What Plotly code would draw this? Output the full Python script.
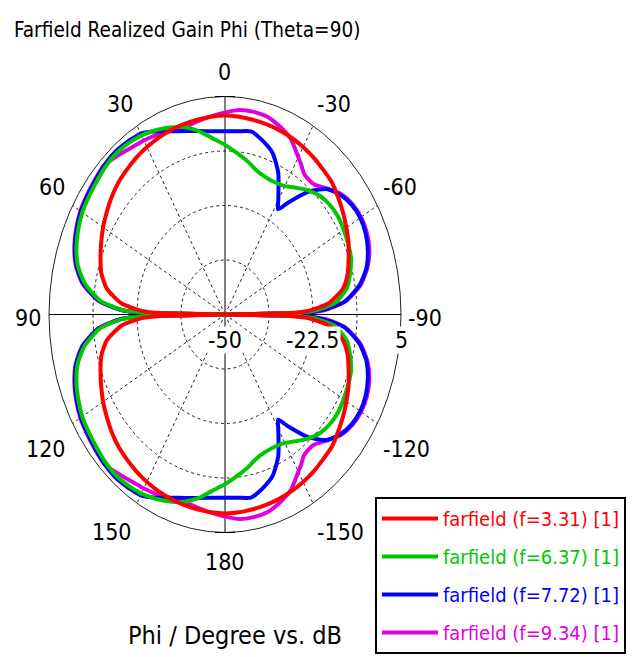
import math
import plotly.graph_objects as go

# ---------------- data ----------------
# Angles of the upper half of the cut (phi, degrees); the pattern is symmetric
# about the 90/-90 axis, the lower half mirrors these readings.
PHI_TOP = [-90, -89, -88, -85, -80, -75, -70, -65, -60, -55, -50, -45, -40, -35, -32, -30,
           -25, -20, -15, -10, -5, 0, 5, 10, 15, 20, 25, 30, 32, 35, 40, 45, 50, 55, 60,
           65, 70, 75, 80, 85, 88, 89, 90]

RED_TOP = [-50, -30, -24, -17.5, -12.6, -10.3, -8.9, -7.4, -6.2, -5.0, -3.9, -2.8, -2.3, -1.7,
           -1.4, -1.2, -0.8, -0.5, -0.3, -0.1, 0.1, 0.2, 0.1, -0.1, -0.3, -0.5, -0.8, -1.2,
           -1.4, -1.7, -2.3, -2.9, -3.8, -4.9, -6.0, -7.3, -8.6, -10.0, -12.5, -17.5, -24,
           -30, -50]

GREEN_TOP = [-50, -29, -22, -15.3, -11.3, -9.5, -8.1, -7.6, -7.2, -6.9, -7.1, -7.8, -9.2,
             -11.0, -12.0, -12.6, -13.2, -13.1, -12.3, -10.6, -9.0, -7.2, -5.4, -3.0, -1.1,
             0.2, 1.3, 2.2, 2.4, 2.7, 3.0, 2.8, 2.3, 1.9, 1.5, 0.6, -0.6, -2.4, -5.6, -11.0,
             -18, -26, -50]

BLUE_TOP = [-50, -27, -20, -12.5, -7.3, -4.2, -2.5, -1.5, -1.2, -1.7, -3.0, -5.2, -9.6, -15.5,
            -18.7, -16.7, -10.6, -6.6, -4.6, -3.1, -3.6, -3.75, -3.6, -3.0, -2.1, -0.8, 1.0,
            2.7, 2.9, 3.2, 3.5, 3.3, 2.8, 2.4, 2.0, 1.1, -0.1, -1.9, -5.0, -10.5, -17.5, -25,
            -50]

MAGENTA_TOP = [-50, -26, -19, -12.2, -7.0, -3.9, -2.0, -1.1, -0.9, -1.4, -2.7, -5.0, -7.0,
               -6.8, -5.2, -4.2, -1.2, 0.4, 1.6, 1.9, 1.8, 1.0, 0.2, -0.5, -1.1, -0.6, 0.1,
               0.7, 0.9, 1.3, 2.3, 3.3, 3.0, 2.6, 2.2, 1.3, 0.1, -1.7, -4.8, -10.3, -17.5,
               -25, -50]

SERIES_NAMES = ["farfield (f=3.31) [1]", "farfield (f=6.37) [1]",
                "farfield (f=7.72) [1]", "farfield (f=9.34) [1]"]
SERIES_VALUES = [RED_TOP, GREEN_TOP, BLUE_TOP, MAGENTA_TOP]

R_MIN, R_MAX = -50.0, 5.0
RADIAL_GRID = [-36.25, -22.5, -8.75]
RADIAL_LABELS = [-50, -22.5, 5]
ANGLE_TICKS = [0, 30, 60, 90, 120, 150, 180, -150, -120, -90, -60, -30]

TITLE = "Farfield Realized Gain Phi (Theta=90)"
AXIS_TITLE = "Phi / Degree vs. dB"

# ---------------- styles / geometry ----------------
COLORS = ["#ff0000", "#00c800", "#0000ff", "#e000e0"]
FONT = "DejaVu Sans Condensed, Liberation Sans Narrow, DejaVu Sans, sans-serif"
W, H = 637, 657
CX, CY = 225.0, 314.5          # centre of the polar area in pixels
RX, RY = 176.0, 218.0          # half axes of the (stretched) outer ring in pixels


def px(x):
    return (x - CX) / RX


def py(y):
    return (CY - y) / RY


def rho(r):
    return max(r - R_MIN, 0.0) / (R_MAX - R_MIN)


def to_xy(phis, rs):
    xs, ys = [], []
    for p, r in zip(phis, rs):
        a = math.radians(p)
        q = rho(r)
        xs.append(-q * math.sin(a))
        ys.append(q * math.cos(a))
    return xs, ys


# full cut: upper half followed by the mirrored lower half
PHI_FULL = PHI_TOP + [180 - p for p in reversed(PHI_TOP[:-1])]

fig = go.Figure()

# draw order: magenta, blue, green, red (red on top); legend lists red first
for idx in [3, 2, 1, 0]:
    vals = SERIES_VALUES[idx]
    full = vals + list(reversed(vals[:-1]))
    xs, ys = to_xy(PHI_FULL, full)
    fig.add_trace(go.Scatter(
        x=xs, y=ys, mode="lines",
        line=dict(color=COLORS[idx], width=4, shape="spline", smoothing=0.6),
        name=f'<span style="color:{COLORS[idx]}">{SERIES_NAMES[idx]}</span>',
        legendgroup=f"g{idx}", legendrank=idx + 1,
        hoverinfo="skip",
    ))

shapes = []
# dashed grid rings
for g in RADIAL_GRID:
    q = rho(g)
    shapes.append(dict(type="circle", xref="x", yref="y", x0=-q, x1=q, y0=-q, y1=q,
                       line=dict(color="#222222", width=1, dash="3px,3px"), layer="below"))
# outer ring
shapes.append(dict(type="circle", xref="x", yref="y", x0=-1, x1=1, y0=-1, y1=1,
                   line=dict(color="#222222", width=1), layer="below"))
# spokes
for a in ANGLE_TICKS:
    if a in (0, 180, 90, -90):
        continue
    t = math.radians(a)
    shapes.append(dict(type="line", xref="x", yref="y", x0=0, y0=0,
                       x1=-math.sin(t), y1=math.cos(t),
                       line=dict(color="#222222", width=1, dash="3px,3px"), layer="below"))
# solid axes
shapes.append(dict(type="line", xref="x", yref="y", x0=-1, x1=1, y0=0, y1=0,
                   line=dict(color="black", width=1), layer="below"))
shapes.append(dict(type="line", xref="x", yref="y", x0=0, x1=0, y0=-1, y1=1,
                   line=dict(color="black", width=1), layer="below"))
# small crossbars at the ends of the vertical axis
for yy in (-1, 1):
    shapes.append(dict(type="line", xref="x", yref="y", x0=-10 / RX, x1=10 / RX, y0=yy, y1=yy,
                       line=dict(color="black", width=1), layer="below"))

annotations = []
# title
annotations.append(dict(text=TITLE, x=px(12), y=py(30), xref="x", yref="y",
                        xanchor="left", yanchor="middle", showarrow=False,
                        font=dict(family=FONT, size=20.6, color="black")))
# angle labels (pixel centres measured on the reference)
ANGLE_LABEL_POS = {0: (224, 72), 30: (119.5, 104), 60: (51.5, 187), 90: (27.5, 318),
                   120: (46, 449), 150: (112, 532), 180: (225, 562), -150: (340, 532),
                   -120: (406, 449), -90: (425, 318), -60: (400, 187), -30: (334, 104)}
for a in ANGLE_TICKS:
    xx, yy = ANGLE_LABEL_POS[a]
    annotations.append(dict(text=str(a), x=px(xx), y=py(yy), xref="x", yref="y",
                            xanchor="center", yanchor="middle", showarrow=False,
                            font=dict(family=FONT, size=23, color="black")))
# radial labels along the -90 axis
for rv in RADIAL_LABELS:
    q = rho(rv)
    annotations.append(dict(text=f"{rv:g}", x=q, y=py(340), xref="x", yref="y",
                            xanchor="center", yanchor="middle", showarrow=False,
                            bgcolor="white", borderpad=0,
                            font=dict(family=FONT, size=23, color="black")))
# axis title
annotations.append(dict(text=AXIS_TITLE, x=px(235), y=py(635), xref="x", yref="y",
                        xanchor="center", yanchor="middle", showarrow=False,
                        font=dict(family=FONT, size=25, color="black")))

fig.update_layout(
    width=W, height=H, autosize=False,
    margin=dict(l=0, r=0, t=0, b=0),
    paper_bgcolor="white", plot_bgcolor="white",
    xaxis=dict(range=[px(0), px(W)], visible=False, fixedrange=True),
    yaxis=dict(range=[py(H), py(0)], visible=False, fixedrange=True),
    shapes=shapes, annotations=annotations,
    showlegend=True,
    legend=dict(x=375 / W, y=1 - 497 / H, xanchor="left", yanchor="top",
                bgcolor="white", bordercolor="black", borderwidth=2,
                font=dict(family=FONT, size=20), traceorder="grouped",
                tracegroupgap=9, itemwidth=56),
)

fig.write_html("out.html")
